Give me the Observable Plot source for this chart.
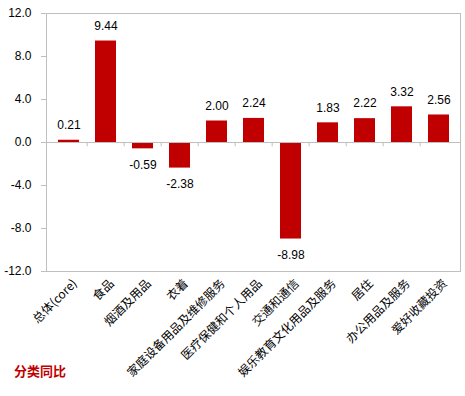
<!DOCTYPE html>
<html><head><meta charset="utf-8">
<script src="https://cdn.jsdelivr.net/npm/d3@7"></script>
<script src="https://cdn.jsdelivr.net/npm/@observablehq/plot@0.6"></script>
<style>
body{margin:0;background:#fff;}
#wrap{position:relative;width:465px;height:396px;}
#title{position:absolute;left:14px;top:361px;font:bold 13px "Noto Sans CJK SC",sans-serif;color:#c00000;}
</style></head>
<body><div id="wrap"><div id="chart"></div><div id="title">分类同比</div></div>
<script>
const categories = ["总体(core)","食品","烟酒及用品","衣着","家庭设备用品及维修服务","医疗保健和个人用品","交通和通信","娱乐教育文化用品及服务","居住","办公用品及服务","爱好收藏投资"];
const values = [0.21,9.44,-0.59,-2.38,2.00,2.24,-8.98,1.83,2.22,3.32,2.56];
const yTicks = [-12,-8,-4,0,4,8,12];

const data = categories.map((c,i)=>({cat:c, v:values[i]}));
const W = 465, ML = 46, MR = 5;
const step = (W-ML-MR)/categories.length;
const font = "Liberation Sans, Arial, sans-serif";

const chart = Plot.plot({
  width: W, height: 396,
  marginLeft: ML, marginRight: MR, marginTop: 13, marginBottom: 125,
  style: {fontFamily: font, fontSize: "12px", color: "#000", background: "#fff"},
  x: {domain: categories, paddingInner: 0.44, paddingOuter: 0.22, label: null},
  y: {domain: [-12, 12], ticks: yTicks, label: null},
  marks: [
    Plot.frame({stroke: "#bfbfbf"}),
    Plot.axisY({ticks: yTicks, tickFormat: d => d.toFixed(1), tickSize: 5, tickPadding: 10, stroke: "#bfbfbf", fontSize: 12, fill: "#000"}),
    Plot.axisX({anchor: "bottom", tickSize: 0, tickPadding: 4, tickRotate: -45, dx: 6, dy: 6, fontSize: 12, fontFamily: "Noto Sans CJK SC, sans-serif", fill: "#000"}),
    Plot.barY(data, {x: "cat", y: "v", fill: "#c00000"}),
    Plot.ruleY([0], {stroke: "#bfbfbf"}),
    Plot.ruleX(categories.slice(1), {x: d => d, y1: 0, y2: -0.4, dx: -step/2, stroke: "#bfbfbf"}),
    Plot.text(data.filter(d => d.v >= 0), {x: "cat", y: "v", text: d => d.v.toFixed(2), dy: -15, fontSize: 12, fill: "#000"}),
    Plot.text(data.filter(d => d.v < 0), {x: "cat", y: "v", text: d => d.v.toFixed(2), dy: 16, fontSize: 12, fill: "#000"})
  ]
});
document.getElementById("chart").appendChild(chart);
</script></body></html>
